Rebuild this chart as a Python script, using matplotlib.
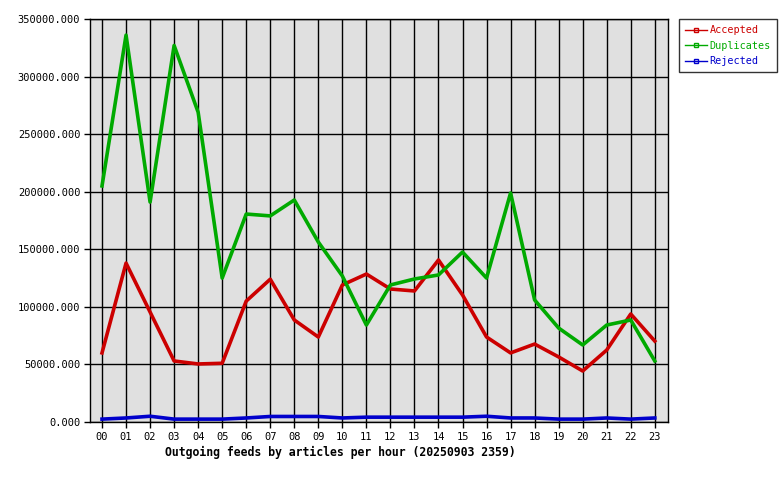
import matplotlib
matplotlib.use('Agg')
import matplotlib.pyplot as plt
from matplotlib.lines import Line2D

hours = ['00', '01', '02', '03', '04', '05', '06', '07', '08', '09', '10', '11',
         '12', '13', '14', '15', '16', '17', '18', '19', '20', '21', '22', '23']
accepted = [60000, 138000, 95500, 53000, 50400, 51000, 105000, 124000, 88600, 73800, 119000, 128500,
            115500, 113800, 140700, 110300, 73800, 60000, 67700, 56500, 44300, 62500, 93800, 70300]
duplicates = [205000, 336000, 191000, 327000, 269000, 125000, 180600, 179000, 192800, 156300, 126800, 84200,
              119000, 124200, 127700, 147600, 125000, 198900, 106000, 81600, 66900, 84200, 88600, 53000]
rejected = [2500, 3500, 5000, 2500, 2500, 2500, 3500, 4800, 4800, 4800, 3500, 4200,
            4200, 4200, 4200, 4200, 5000, 3500, 3500, 2500, 2500, 3500, 2500, 3500]
yticks = [0, 50000, 100000, 150000, 200000, 250000, 300000, 350000]

mono = 'DejaVu Sans Mono'
red, green, blue = '#cc0000', '#00aa00', '#0000cc'

fig = plt.figure(figsize=(7.8, 4.8), dpi=100)
ax = fig.add_axes([90/780, 58/480, 578/780, 403/480])
ax.set_facecolor('#e0e0e0')

x = list(range(len(hours)))
ax.plot(x, accepted, color=red, lw=2.6)
ax.plot(x, duplicates, color=green, lw=2.6)
ax.plot(x, rejected, color=blue, lw=2.6)

ax.set_xlim(-0.5, 23.55)
ax.set_ylim(0, 350000)
ax.set_xticks(x)
ax.set_xticklabels(hours, fontfamily=mono, fontsize=7.5)
ax.set_yticks(yticks)
ax.set_yticklabels(['%.3f' % v for v in yticks], fontfamily=mono, fontsize=7.5)
ax.tick_params(length=4, width=1, color='black', pad=3)
ax.grid(True, color='black', lw=1)
ax.set_axisbelow(True)
for s in ax.spines.values():
    s.set_linewidth(1)

fig.text(165/780, 1 - 452/480, 'Outgoing feeds by articles per hour (20250903 2359)',
         fontfamily=mono, fontweight='bold', fontsize=8.3, va='center', ha='left')

handles = [Line2D([], [], color=c, lw=1, marker='s', markersize=3, markerfacecolor='none',
                  markeredgecolor=c) for c in (red, green, blue)]
leg = fig.legend(handles, ['Accepted', 'Duplicates', 'Rejected'], loc='upper left',
                 bbox_to_anchor=(679/780, 1 - 19/480), prop={'family': mono, 'size': 7.3},
                 frameon=True, fancybox=False, handlelength=2.2, handletextpad=0.2,
                 borderpad=0.6, labelspacing=0.55, borderaxespad=0)
leg.get_frame().set_edgecolor('black')
leg.get_frame().set_linewidth(1)
for t, c in zip(leg.get_texts(), (red, green, blue)):
    t.set_color(c)

fig.savefig('out.png', dpi=100)
